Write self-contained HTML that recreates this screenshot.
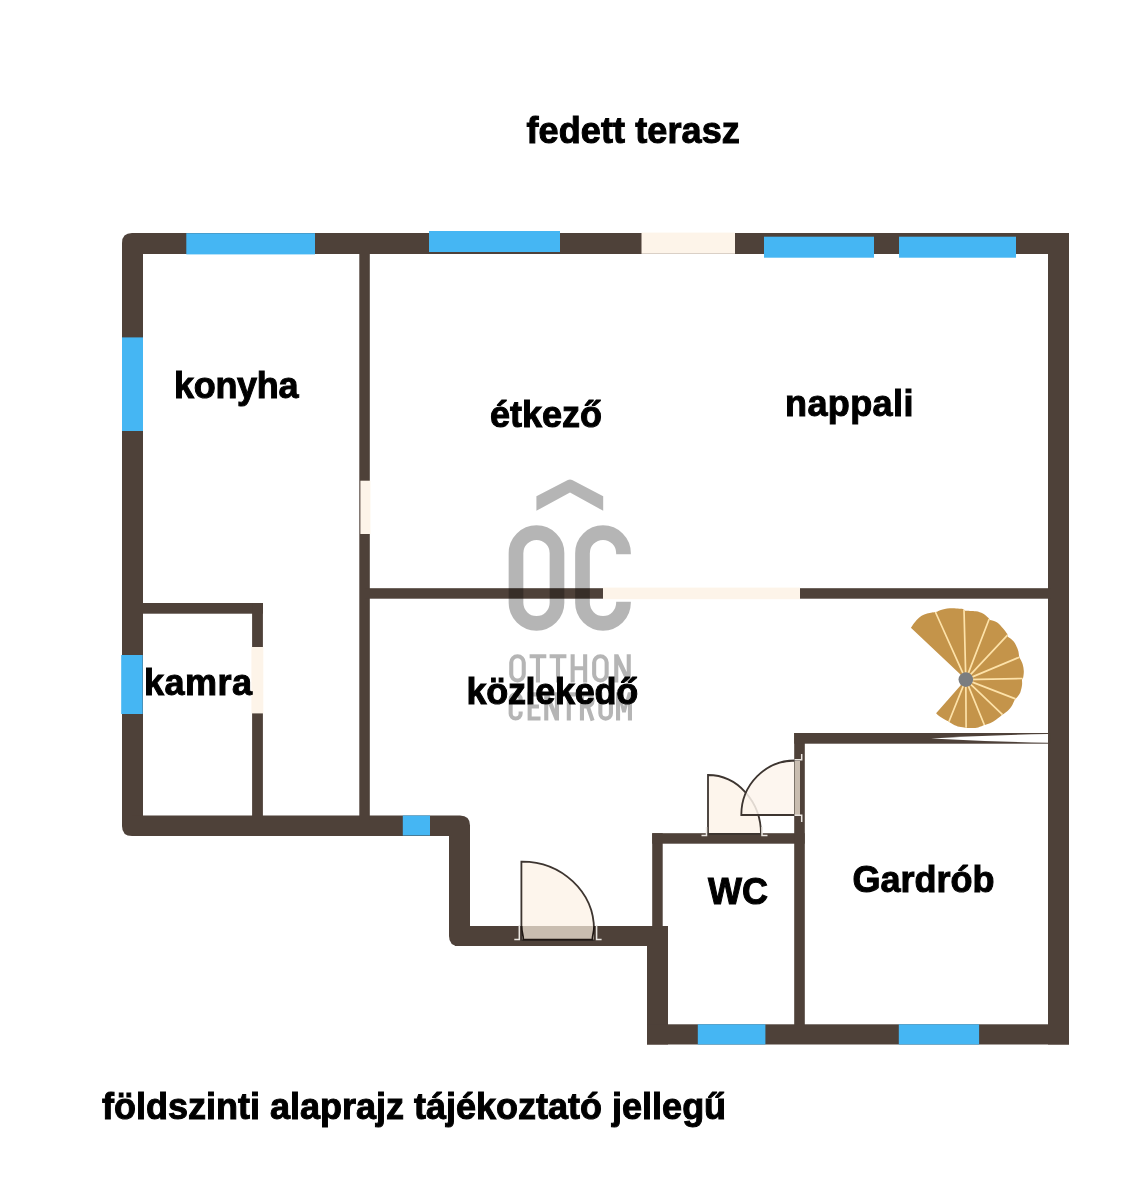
<!DOCTYPE html>
<html><head><meta charset="utf-8">
<style>
html,body{margin:0;padding:0;background:#fff;width:1140px;height:1200px;overflow:hidden}
svg{display:block;will-change:transform}
text{font-family:"Liberation Sans",sans-serif;font-weight:bold;font-size:36px;fill:#000}
</style></head><body>
<svg width="1140" height="1200" viewBox="0 0 1140 1200">
<rect width="1140" height="1200" fill="#fff"/>
<!-- outer walls -->
<g fill="#4e4139">
<path d="M132 233 H1069 V254 H143 V233 Z"/>
<path d="M122 243 Q122 233 132 233 H143 V836 H132 Q122 836 122 826 Z"/>
<path d="M132 815.5 H460 Q470 815.5 470 825.5 V836 H132 Z"/>
<path d="M449 825 H470 V946 H459 Q449 946 449 936 Z"/>
<rect x="455" y="926" width="213" height="20"/>
<rect x="647" y="926" width="21" height="118.5"/>
<rect x="647" y="1024.3" width="422" height="20.2"/>
<rect x="1048" y="233" width="21" height="811.5"/>
<!-- interior walls -->
<rect x="359.3" y="250" width="10.5" height="570"/>
<rect x="365" y="588.2" width="686" height="10.5"/>
<rect x="140" y="603" width="123" height="10.7"/>
<rect x="252.1" y="603" width="10.8" height="215"/>
<rect x="652.2" y="833.2" width="10.5" height="95"/>
<rect x="652.2" y="833.2" width="152.5" height="10.5"/>
<rect x="794.2" y="733" width="10.6" height="293"/>
<rect x="794.2" y="733" width="256" height="10.7"/>
</g>
<!-- wedge in gardrob wall -->
<path d="M931 738.4 Q990 735 1048 734.1 V742.7 Q990 741.5 931 738.4 Z" fill="#fff"/>
<!-- windows -->
<g fill="#45b6f3">
<rect x="186.3" y="233.2" width="128.7" height="21.2"/>
<rect x="429" y="231" width="131" height="21"/>
<rect x="764" y="236.7" width="110" height="21"/>
<rect x="899" y="236.7" width="117" height="21"/>
<rect x="122" y="337.4" width="21" height="93.6"/>
<rect x="121.2" y="655" width="21.5" height="59"/>
<rect x="402.8" y="815.5" width="27.2" height="20"/>
<rect x="697.8" y="1024.3" width="67.6" height="20.2"/>
<rect x="898.8" y="1024.3" width="80.3" height="20.2"/>
</g>
<!-- beige openings -->
<g fill="#fdf4e9">
<rect x="641.5" y="232.6" width="93.5" height="21.2"/>
<rect x="360.4" y="480.7" width="10" height="53.3"/>
<rect x="603" y="587.6" width="197" height="11.6"/>
<rect x="251.4" y="647" width="11.9" height="66.4"/>
</g>
<!-- entrance door -->
<path d="M521.4 940 V861.6 A72 68 0 0 1 594 930 V940 Z" fill="#fdf5ec" stroke="#3d3530" stroke-width="1.8"/>
<rect x="522" y="926" width="72" height="13.5" fill="#c9bdb0"/>
<path d="M521.7 926 C521.7 933 523.3 934 523.3 939.6 H592.4 C592.4 934 594 933 594 926" fill="none" stroke="#1f1713" stroke-width="1.7"/>
<!-- WC door -->
<path d="M708 834 V775 A53 59 0 0 1 761 834 Z" fill="#fdf5ec" stroke="#3d3530" stroke-width="1.8"/>
<!-- gardrob door -->
<path d="M795 815 H741.3 A53.7 54.5 0 0 1 795 760.5 Z" fill="#fdf5ec" fill-opacity="0.85" stroke="#3d3530" stroke-width="1.8"/>
<rect x="794.6" y="761" width="5.4" height="54" fill="#c9bdb0"/>
<!-- stairs -->
<path fill="#c4944a" d="M965.8 679.6L910.9 627.8C911.5 627.1 912.9 624.8 914.2 623.1C915.6 621.4 917.2 619.3 919.0 617.8C920.7 616.3 922.4 615.1 924.9 614.2C927.3 613.3 932.3 612.5 933.8 612.2L937.0 611.8C937.6 611.6 938.7 610.7 940.9 610.1C943.0 609.5 946.1 608.5 949.8 608.3C953.4 608.1 960.6 608.8 962.8 608.9L965.2 610.7C966.9 610.8 972.9 610.8 975.8 611.3C978.8 611.7 980.9 612.5 982.9 613.6C985.0 614.7 987.4 617.1 988.3 617.8L990.0 620.1C991.2 620.5 995.0 621.1 997.2 622.5C999.3 623.9 1001.4 626.6 1003.1 628.4C1004.8 630.3 1006.5 632.9 1007.2 633.8L1007.8 636.7C1008.8 637.5 1012.1 639.3 1013.7 641.5C1015.4 643.6 1017.0 647.3 1017.9 649.8C1018.8 652.2 1018.9 655.2 1019.1 656.3L1019.7 658.1C1020.2 659.0 1021.9 661.8 1022.6 664.0C1023.3 666.2 1023.7 668.8 1023.8 671.1C1023.9 673.4 1023.3 676.5 1023.2 677.6L1022.0 679.4C1022.0 680.4 1022.3 683.1 1022.0 685.3C1021.7 687.5 1021.2 690.2 1020.3 692.4C1019.3 694.6 1016.8 697.4 1016.1 698.3L1014.9 699.5C1014.3 700.7 1012.6 704.8 1011.4 706.6C1010.2 708.5 1009.2 709.5 1007.8 710.8C1006.4 712.1 1003.9 713.7 1003.1 714.3L1001.9 714.9C1000.9 715.7 997.9 718.3 996.0 719.7C994.0 721.1 991.9 722.3 990.0 723.2C988.2 724.1 985.6 724.7 984.7 725.0L984.1 725.0C983.1 725.4 980.2 726.9 978.2 727.4C976.2 727.9 974.2 727.9 972.3 728.0C970.4 728.1 967.8 728.0 966.9 728.0L965.2 727.7C964.2 727.6 961.2 727.3 959.2 726.8C957.3 726.2 955.0 725.2 953.3 724.4C951.6 723.6 949.9 722.4 949.2 722.0L948.6 721.4C947.8 721.1 945.4 720.0 943.8 719.1C942.3 718.2 940.4 717.1 939.1 716.1C937.8 715.1 936.6 713.6 936.1 713.2Z"/>
<path fill="none" stroke="#fde2a9" stroke-width="1.7" d="M965.8 679.6L935.4 612.0M965.8 679.6L964.0 609.8M965.8 679.6L989.2 619.0M965.8 679.6L1007.5 635.2M965.8 679.6L1019.4 657.2M965.8 679.6L1022.6 678.5M965.8 679.6L1015.5 698.9M965.8 679.6L1002.5 714.6M965.8 679.6L984.4 725.0M965.8 679.6L966.1 727.8M965.8 679.6L948.9 721.7"/>
<circle cx="965.8" cy="679.6" r="7.3" fill="#7a7d80"/>
<!-- jambs -->
<g fill="none" stroke="#ebe7e2" stroke-width="1.5">
<path d="M519.3 925 V939.5 H514.3 M596.6 925 V939.5 H601.6"/>
<path d="M706.5 827 V835.5 H701.5 M762 827 V835.5 H767.5"/>
<path d="M794.5 759.8 H801.7 V754 M794.5 815.2 H801.7 V822"/>
</g>
<!-- labels -->
<g stroke="#000" stroke-width="1.0">
<text x="526.5" y="143" letter-spacing="0.1">fedett terasz</text>
<text x="174" y="398" letter-spacing="-0.3">konyha</text>
<text x="490" y="427">étkező</text>
<text x="785" y="416" letter-spacing="0.4">nappali</text>
<text x="144" y="695" letter-spacing="0.5">kamra</text>
<text x="466.5" y="703.5" letter-spacing="-0.3">közlekedő</text>
<text x="708" y="904">WC</text>
<text x="852.5" y="892">Gardrób</text>
<text x="102" y="1119">földszinti alaprajz tájékoztató jellegű</text>
</g>
<!-- logo -->
<g opacity="0.285">
<path fill="#000" d="M536.4 496.3 L567.8 480.1 Q570 478.9 572.2 480.1 L603.2 496.3 V510.8 L570 492.4 L536.4 510.8 Z"/>
<g fill="none" stroke="#000" stroke-width="14.7">
<path d="M516 553.15 A20.5 20.5 0 0 1 557 553.15 V602.85 A20.5 20.5 0 0 1 516 602.85 Z"/>
<path d="M623.5 554.2 V553.15 A20.5 20.5 0 0 0 582.5 553.15 V602.85 A20.5 20.5 0 0 0 623.5 602.85 V601.7"/>
</g>
<g fill="none" stroke="#000" stroke-width="4.1">
<path d="M511.25 662.5 A6.25 6.25 0 0 1 523.75 662.5 V674.2 A6.25 6.25 0 0 1 511.25 674.2 Z"/>
<path d="M529.6 656.25 H546.3 M537.95 656.25 V682.5 M549.6 656.25 H566.4 M558 656.25 V682.5"/>
<path d="M572.65 654.2 V682.5 M585.15 654.2 V682.5 M572.65 668.3 H585.15"/>
<path d="M594.15 662.5 A6.25 6.25 0 0 1 606.65 662.5 V674.2 A6.25 6.25 0 0 1 594.15 674.2 Z"/>
<path d="M520.65 701.5 V699.35 A5 5 0 0 0 510.65 699.35 V713.55 A5 5 0 0 0 520.65 713.55 V711.5"/>
<path d="M540.5 694.35 H529.65 V718.55 H540.5 M529.65 706.5 H539"/>
<path d="M561.4 694.35 H576.2 M568.8 694.35 V720.6"/>
<path d="M581.95 720.6 V694.35 H587 A5.6 6.05 0 0 1 587 706.45 H581.95 M587.8 706.45 L592.6 720.6"/>
<path d="M600.35 692.3 V713.3 A5.3 5.3 0 0 0 610.95 713.3 V692.3"/>
</g>
<g fill="#000">
<path d="M614.2 682.5 V654.2 H618.3 L626.7 672 V654.2 H630.8 V682.5 H626.7 L618.3 664.7 V682.5 Z"/>
<path d="M544.2 720.6 V692.3 H548.3 L554.9 709 V692.3 H559 V720.6 H554.9 L548.3 703.9 V720.6 Z"/>
<path d="M616 720.6 V692.3 H620.1 L624 706.5 L627.9 692.3 H632 V720.6 H627.9 V704 L625.8 712.5 H622.2 L620.1 704 V720.6 Z"/>
</g>
</g>
</svg>
</body></html>
